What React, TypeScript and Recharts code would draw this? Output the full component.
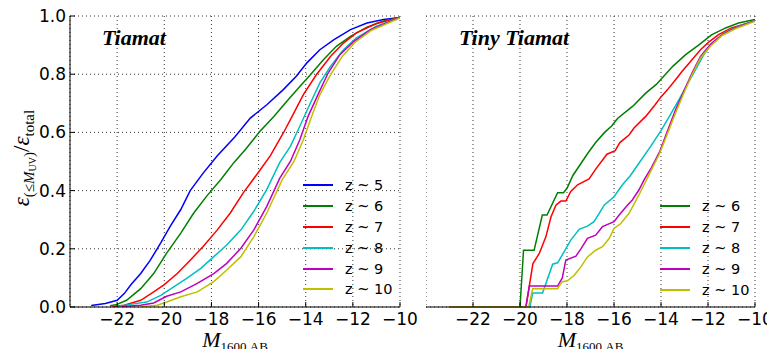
import { LineChart, Line, XAxis, YAxis, CartesianGrid, Legend } from "recharts"

// Tiamat (left panel): [M_1600, cumulative fraction]
const tiamatZ5: [number, number][] = [
  [-23.1, 0.005], [-22.5, 0.012], [-22.0, 0.023], [-21.7, 0.046], [-21.4, 0.078], [-21.0, 0.115],
  [-20.6, 0.16], [-20.15, 0.22], [-19.75, 0.277], [-19.3, 0.335], [-18.9, 0.4], [-18.35, 0.46],
  [-17.75, 0.52], [-17.0, 0.585], [-16.35, 0.649], [-15.65, 0.695], [-14.95, 0.747], [-14.4, 0.793],
  [-13.95, 0.839], [-13.4, 0.884], [-12.8, 0.919], [-12.1, 0.953], [-11.4, 0.976], [-10.7, 0.988], [-10.0, 0.995],
]
const tiamatZ6: [number, number][] = [
  [-22.3, 0.004], [-22.0, 0.009], [-21.6, 0.023], [-21.0, 0.063], [-20.45, 0.115], [-19.9, 0.185],
  [-19.3, 0.254], [-18.75, 0.323], [-18.2, 0.381], [-17.6, 0.438], [-17.05, 0.496], [-16.55, 0.542],
  [-15.95, 0.603], [-15.35, 0.655], [-14.8, 0.707], [-14.25, 0.758], [-13.8, 0.798], [-13.25, 0.85],
  [-12.7, 0.896], [-12.1, 0.93], [-11.4, 0.962], [-10.7, 0.983], [-10.0, 0.995],
]
const tiamatZ7: [number, number][] = [
  [-22.2, 0.002], [-21.7, 0.006], [-21.0, 0.023], [-20.45, 0.052], [-20.0, 0.077], [-19.45, 0.115],
  [-18.9, 0.161], [-18.35, 0.208], [-17.75, 0.265], [-17.2, 0.323], [-16.65, 0.392], [-16.05, 0.458],
  [-15.5, 0.52], [-14.95, 0.598], [-14.5, 0.667], [-14.1, 0.73], [-13.55, 0.798], [-12.95, 0.861],
  [-12.4, 0.907], [-11.85, 0.942], [-11.0, 0.974], [-10.0, 0.995],
]
const tiamatZ8: [number, number][] = [
  [-22.0, 0.002], [-21.45, 0.009], [-20.75, 0.017], [-20.15, 0.04], [-19.6, 0.069], [-19.05, 0.098],
  [-18.45, 0.133], [-17.9, 0.173], [-17.35, 0.213], [-16.75, 0.265], [-16.2, 0.329], [-15.65, 0.404],
  [-15.1, 0.497], [-14.65, 0.552], [-14.25, 0.621], [-13.8, 0.701], [-13.4, 0.77], [-12.95, 0.827],
  [-12.4, 0.884], [-11.85, 0.925], [-11.0, 0.965], [-10.0, 0.995],
]
const tiamatZ9: [number, number][] = [
  [-21.8, 0.002], [-21.0, 0.006], [-20.45, 0.014], [-19.9, 0.037], [-19.3, 0.052], [-18.6, 0.081],
  [-17.9, 0.115], [-17.35, 0.15], [-16.75, 0.202], [-16.2, 0.265], [-15.65, 0.346], [-15.1, 0.443],
  [-14.65, 0.5], [-14.25, 0.575], [-13.9, 0.655], [-13.45, 0.735], [-13.05, 0.804], [-12.55, 0.867],
  [-11.95, 0.913], [-11.25, 0.953], [-10.0, 0.995],
]
const tiamatZ10: [number, number][] = [
  [-21.0, 0.001], [-20.3, 0.006], [-19.9, 0.017], [-19.3, 0.035], [-18.6, 0.052], [-17.9, 0.087],
  [-17.35, 0.127], [-16.75, 0.173], [-16.2, 0.242], [-15.65, 0.323], [-15.0, 0.437], [-14.5, 0.5],
  [-14.1, 0.575], [-13.75, 0.655], [-13.4, 0.73], [-12.95, 0.798], [-12.45, 0.861], [-11.9, 0.91],
  [-11.2, 0.951], [-10.0, 0.993],
]

// Tiny Tiamat (right panel)
const tinyZ6: [number, number][] = [
  [-23.0, 0], [-20.0, 0], [-19.85, 0.195], [-19.4, 0.195], [-19.05, 0.316], [-18.85, 0.316],
  [-18.4, 0.393], [-18.15, 0.393], [-18.0, 0.408], [-17.75, 0.452], [-17.4, 0.494], [-17.1, 0.53],
  [-16.78, 0.565], [-16.4, 0.6], [-16.1, 0.622], [-15.85, 0.648], [-15.2, 0.69], [-14.65, 0.735],
  [-14.2, 0.765], [-13.95, 0.787], [-13.5, 0.827], [-12.95, 0.867], [-12.4, 0.9], [-11.85, 0.935],
  [-11.25, 0.959], [-10.7, 0.976], [-10.0, 0.988],
]
const tinyZ7: [number, number][] = [
  [-23.0, 0], [-20.0, 0], [-19.75, 0], [-19.45, 0.149], [-19.18, 0.184], [-18.9, 0.241], [-18.68, 0.31],
  [-18.47, 0.35], [-18.26, 0.364], [-18.05, 0.364], [-17.84, 0.397], [-17.55, 0.42], [-17.06, 0.44],
  [-16.78, 0.474], [-16.3, 0.525], [-15.95, 0.537], [-15.75, 0.565], [-15.35, 0.592], [-15.15, 0.615],
  [-14.65, 0.655], [-14.25, 0.695], [-14.0, 0.722], [-13.72, 0.747], [-13.38, 0.781], [-13.1, 0.81],
  [-12.68, 0.85], [-12.32, 0.884], [-11.97, 0.91], [-11.55, 0.936], [-11.0, 0.959], [-10.0, 0.983],
]
const tinyZ8: [number, number][] = [
  [-23.0, 0], [-20.0, 0], [-19.58, 0], [-19.46, 0.048], [-19.04, 0.048], [-18.61, 0.147], [-18.4, 0.152],
  [-18.12, 0.19], [-17.84, 0.23], [-17.48, 0.267], [-17.13, 0.278], [-16.85, 0.293], [-16.63, 0.322],
  [-16.42, 0.35], [-16.0, 0.379], [-15.64, 0.42], [-15.3, 0.452], [-14.94, 0.494], [-14.44, 0.552],
  [-14.0, 0.606], [-13.6, 0.661], [-13.24, 0.712], [-12.89, 0.764], [-12.53, 0.816], [-12.18, 0.867],
  [-11.83, 0.907], [-11.26, 0.944], [-10.7, 0.965], [-10.0, 0.984],
]
const tinyZ9: [number, number][] = [
  [-23.0, 0], [-20.0, 0], [-19.75, 0], [-19.6, 0.072], [-18.4, 0.072], [-18.2, 0.1], [-18.05, 0.161],
  [-17.62, 0.175], [-17.41, 0.2], [-17.13, 0.236], [-16.78, 0.247], [-16.49, 0.276], [-16.0, 0.293],
  [-15.78, 0.316], [-15.43, 0.35], [-15.22, 0.368], [-14.94, 0.402], [-14.72, 0.437], [-14.4, 0.48],
  [-14.05, 0.535], [-13.75, 0.6], [-13.38, 0.678], [-13.03, 0.741], [-12.68, 0.804], [-12.32, 0.861],
  [-11.9, 0.902], [-11.4, 0.936], [-10.84, 0.959], [-10.0, 0.984],
]
const tinyZ10: [number, number][] = [
  [-23.0, 0], [-20.0, 0], [-19.63, 0], [-19.46, 0.063], [-18.4, 0.063], [-18.22, 0.086], [-17.98, 0.09],
  [-17.69, 0.109], [-17.41, 0.138], [-17.13, 0.172], [-16.78, 0.195], [-16.49, 0.207], [-16.2, 0.236],
  [-16.0, 0.27], [-15.71, 0.287], [-15.36, 0.322], [-14.94, 0.385], [-14.55, 0.448], [-14.05, 0.529],
  [-13.73, 0.595], [-13.38, 0.667], [-13.03, 0.735], [-12.68, 0.798], [-12.32, 0.856], [-11.9, 0.896],
  [-11.4, 0.933], [-10.84, 0.956], [-10.0, 0.982],
]

const xTicks = [-22, -20, -18, -16, -14, -12, -10]
const yTicks = [0, 0.2, 0.4, 0.6, 0.8, 1.0]
const seriesNames = ["z ~ 5", "z ~ 6", "z ~ 7", "z ~ 8", "z ~ 9", "z ~ 10"]

const COLORS: Record<string, string> = {
  "z ~ 5": "#0000ff",
  "z ~ 6": "#008000",
  "z ~ 7": "#ff0000",
  "z ~ 8": "#00bfbf",
  "z ~ 9": "#bf00bf",
  "z ~ 10": "#bfbf00",
}

const leftSeries: [string, [number, number][]][] = [
  ["z ~ 5", tiamatZ5], ["z ~ 6", tiamatZ6], ["z ~ 7", tiamatZ7],
  ["z ~ 8", tiamatZ8], ["z ~ 9", tiamatZ9], ["z ~ 10", tiamatZ10],
]
const rightSeries: [string, [number, number][]][] = [
  ["z ~ 6", tinyZ6], ["z ~ 7", tinyZ7], ["z ~ 8", tinyZ8], ["z ~ 9", tinyZ9], ["z ~ 10", tinyZ10],
]

const toPoints = (arr: [number, number][]) => arr.map(([m, f]) => ({ m, f }))
const fmtX = (v: number) => (v < 0 ? `\u2212${Math.abs(v)}` : `${v}`)
const tickFont = { fill: "#000", fontSize: 17, fontFamily: "DejaVu Sans" }

const XTitle = (props: any) => {
  const vb = props.viewBox || { x: 0, y: 0, width: 0 }
  return (
    <text x={vb.x + vb.width / 2} y={347} textAnchor="middle" fill="#000" fontFamily="Liberation Serif">
      <tspan fontStyle="italic" fontSize={22}>M</tspan>
      <tspan fontSize={13} dy={4}>1600,AB</tspan>
    </text>
  )
}

const YTitle = () => {
  const x = 29
  const y = 158
  return (
    <text x={x} y={y} transform={`rotate(-90 ${x} ${y})`} textAnchor="middle" fill="#000" fontFamily="Liberation Serif">
      <tspan fontStyle="italic" fontSize={23}>ε</tspan>
      <tspan fontSize={15} dy={5}>(≤</tspan>
      <tspan fontSize={15} fontStyle="italic">M</tspan>
      <tspan fontSize={10} dy={2}>UV</tspan>
      <tspan fontSize={15} dy={-2}>)</tspan>
      <tspan fontSize={23} dy={-5}>/</tspan>
      <tspan fontSize={23} fontStyle="italic">ε</tspan>
      <tspan fontSize={15} dy={5}>total</tspan>
    </text>
  )
}

const renderLegend = (props: any) => {
  const items = [...(props.payload || [])].sort(
    (a: any, b: any) => seriesNames.indexOf(a.value) - seriesNames.indexOf(b.value)
  )
  return (
    <div>
      {items.map((p: any) => (
        <div key={p.value} style={{ display: "flex", alignItems: "center", height: 20.8 }}>
          <span style={{ display: "inline-block", width: 30, borderTop: `2px solid ${p.color}`, marginRight: 12 }} />
          <span style={{ fontSize: 14.5, fontFamily: "DejaVu Sans", color: "#000", lineHeight: "16px" }}>{p.value}</span>
        </div>
      ))}
    </div>
  )
}

function Panel({ series, showY, legendPos }: { series: [string, [number, number][]][]; showY: boolean; legendPos: { left: number; top: number } }) {
  return (
    <LineChart width={showY ? 420 : 349} height={357} margin={{ top: 16, right: 20, bottom: 0, left: 0 }}>
      <CartesianGrid stroke="#000" strokeDasharray="1 3" strokeWidth={0.8} />
      <XAxis
        dataKey="m"
        type="number"
        domain={[-24, -10]}
        ticks={xTicks}
        interval={0}
        allowDataOverflow
        tickFormatter={fmtX}
        tick={tickFont}
        tickSize={-5}
        tickMargin={11}
        height={50}
        stroke="#000"
        label={<XTitle />}
      />
      <XAxis xAxisId="top" orientation="top" type="number" domain={[-24, -10]} ticks={xTicks} interval={0} height={0} tick={false} tickSize={-5} stroke="#000" />
      {showY ? (
        <YAxis
          type="number"
          domain={[0, 1]}
          ticks={yTicks}
          interval={0}
          tickFormatter={(v: number) => v.toFixed(1)}
          tick={tickFont}
          tickSize={-5}
          tickMargin={9}
          width={70}
          stroke="#000"
          label={<YTitle />}
        />
      ) : (
        <YAxis type="number" domain={[0, 1]} ticks={yTicks} interval={0} tick={false} tickSize={-5} width={0} stroke="#000" />
      )}
      <YAxis yAxisId="right" orientation="right" type="number" domain={[0, 1]} ticks={yTicks} interval={0} tick={false} tickSize={-5} width={0} stroke="#000" />
      <Legend
        layout="vertical"
        align="center"
        verticalAlign="middle"
        content={renderLegend}
        wrapperStyle={{ left: legendPos.left, top: legendPos.top, width: 110 }}
      />
      {series.map(([name, pts]) => (
        <Line
          key={name}
          name={name}
          data={toPoints(pts)}
          dataKey="f"
          type="linear"
          dot={false}
          stroke={COLORS[name]}
          strokeWidth={1.5}
          isAnimationActive={false}
        />
      ))}
    </LineChart>
  )
}

export default function App() {
  const titleStyle = {
    position: "absolute" as const,
    top: 27,
    fontFamily: "Liberation Serif",
    fontWeight: "bold" as const,
    fontStyle: "italic" as const,
    fontSize: 22,
    lineHeight: "22px",
    color: "#000",
    whiteSpace: "nowrap" as const,
  }
  return (
    <div style={{ position: "relative", width: 775, height: 357, margin: -8, background: "#fff", overflow: "hidden" }}>
      <div style={{ position: "absolute", left: 0, top: 0 }}>
        <Panel series={leftSeries} showY legendPos={{ left: 303, top: 175 }} />
      </div>
      <div style={{ position: "absolute", left: 426, top: 0 }}>
        <Panel series={rightSeries} showY={false} legendPos={{ left: 234, top: 196 }} />
      </div>
      <div style={{ ...titleStyle, left: 102 }}>Tiamat</div>
      <div style={{ ...titleStyle, left: 459 }}>Tiny Tiamat</div>
    </div>
  )
}
